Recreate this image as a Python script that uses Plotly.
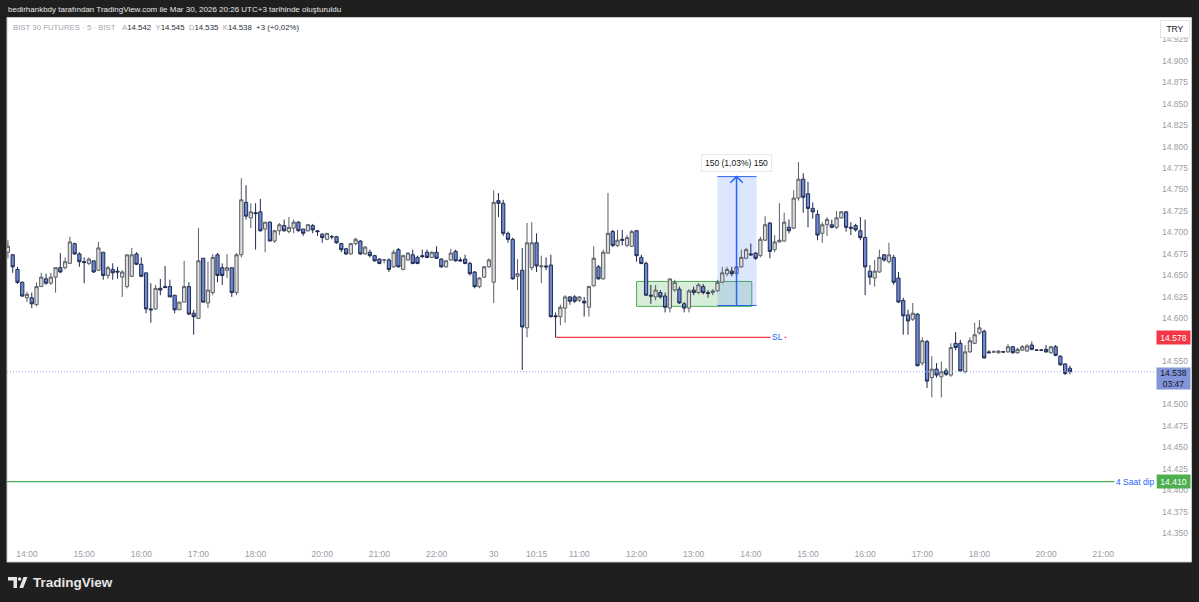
import plotly.graph_objects as go

# ---------------- data (5-min bars, BIST 30 futures) ----------------
open_ = [
    14.677,14.674,14.657,14.642,14.624,14.624,14.616,14.637,14.646,14.641,
    14.648,14.659,14.659,14.664,14.687,14.675,14.666,14.664,14.667,14.656,
    14.677,14.650,14.657,14.655,14.648,14.637,14.649,14.675,14.663,14.653,
    14.611,14.611,14.635,14.637,14.637,14.627,14.610,14.619,14.637,14.606,
    14.600,14.670,14.618,14.630,14.674,14.659,14.656,14.659,14.630,14.674,
    14.735,14.717,14.723,14.724,14.704,14.712,14.690,14.702,14.708,14.701,
    14.705,14.712,14.704,14.702,14.708,14.702,14.698,14.692,14.695,14.695,
    14.687,14.681,14.675,14.687,14.690,14.675,14.677,14.673,14.669,14.668,
    14.668,14.660,14.680,14.657,14.668,14.674,14.671,14.673,14.677,14.671,
    14.677,14.669,14.660,14.668,14.678,14.668,14.669,14.664,14.654,14.637,
    14.648,14.660,14.642,14.737,14.734,14.699,14.692,14.649,14.656,14.589,
    14.659,14.688,14.660,14.661,14.662,14.603,14.602,14.612,14.625,14.625,
    14.621,14.620,14.613,14.638,14.660,14.646,14.676,14.701,14.685,14.692,
    14.685,14.684,14.702,14.671,14.664,14.627,14.625,14.630,14.626,14.612,
    14.633,14.634,14.617,14.612,14.633,14.630,14.637,14.630,14.630,14.632,
    14.642,14.652,14.655,14.652,14.660,14.670,14.675,14.676,14.673,14.691,
    14.711,14.680,14.689,14.690,14.706,14.705,14.740,14.762,14.745,14.728,
    14.721,14.699,14.709,14.709,14.706,14.717,14.724,14.706,14.708,14.702,
    14.694,14.655,14.647,14.654,14.674,14.666,14.671,14.647,14.621,14.604,
    14.599,14.605,14.548,14.573,14.531,14.541,14.532,14.539,14.534,14.571,
    14.571,14.538,14.561,14.571,14.583,14.585,14.561,14.561,14.560,14.561,
    14.561,14.567,14.560,14.563,14.562,14.569,14.563,14.563,14.564,14.560,
    14.567,14.556,14.547,14.542,
]
high = [
    14.691,14.675,14.660,14.643,14.631,14.630,14.642,14.653,14.652,14.653,
    14.659,14.676,14.671,14.695,14.688,14.677,14.671,14.671,14.667,14.689,
    14.677,14.661,14.664,14.660,14.656,14.674,14.682,14.677,14.671,14.653,
    14.641,14.639,14.646,14.661,14.645,14.627,14.619,14.667,14.642,14.610,
    14.705,14.670,14.666,14.675,14.676,14.664,14.675,14.659,14.676,14.763,
    14.755,14.734,14.734,14.739,14.712,14.713,14.703,14.711,14.715,14.718,
    14.715,14.713,14.704,14.710,14.710,14.702,14.699,14.699,14.697,14.696,
    14.688,14.682,14.688,14.694,14.691,14.684,14.680,14.674,14.670,14.669,
    14.670,14.680,14.682,14.674,14.677,14.680,14.673,14.680,14.680,14.678,
    14.684,14.670,14.668,14.681,14.680,14.671,14.674,14.666,14.655,14.648,
    14.661,14.670,14.749,14.746,14.738,14.701,14.694,14.669,14.682,14.711,
    14.712,14.699,14.673,14.671,14.674,14.607,14.616,14.627,14.626,14.627,
    14.626,14.625,14.638,14.684,14.662,14.680,14.746,14.703,14.703,14.703,
    14.697,14.703,14.703,14.674,14.666,14.639,14.639,14.633,14.630,14.646,
    14.645,14.637,14.619,14.634,14.637,14.641,14.640,14.633,14.634,14.645,
    14.660,14.660,14.660,14.664,14.680,14.682,14.687,14.677,14.695,14.719,
    14.712,14.697,14.734,14.723,14.715,14.749,14.782,14.769,14.759,14.735,
    14.726,14.712,14.718,14.715,14.725,14.725,14.725,14.712,14.710,14.718,
    14.715,14.662,14.668,14.680,14.675,14.688,14.674,14.654,14.624,14.610,
    14.618,14.606,14.578,14.575,14.556,14.548,14.550,14.542,14.571,14.584,
    14.575,14.569,14.578,14.595,14.598,14.587,14.563,14.563,14.563,14.562,
    14.570,14.568,14.566,14.569,14.570,14.573,14.564,14.564,14.569,14.568,
    14.569,14.557,14.548,14.545,
]
low = [
    14.670,14.653,14.640,14.625,14.619,14.612,14.614,14.637,14.639,14.639,
    14.630,14.653,14.657,14.664,14.674,14.660,14.641,14.662,14.653,14.655,
    14.645,14.646,14.645,14.646,14.625,14.635,14.648,14.662,14.648,14.606,
    14.595,14.610,14.627,14.635,14.625,14.606,14.610,14.619,14.604,14.581,
    14.600,14.618,14.612,14.627,14.642,14.639,14.647,14.625,14.627,14.671,
    14.715,14.705,14.680,14.701,14.677,14.690,14.688,14.697,14.701,14.699,
    14.699,14.701,14.696,14.701,14.699,14.696,14.688,14.691,14.692,14.687,
    14.677,14.674,14.674,14.685,14.674,14.674,14.671,14.666,14.663,14.664,
    14.654,14.659,14.659,14.656,14.667,14.663,14.663,14.670,14.670,14.670,
    14.669,14.659,14.659,14.667,14.666,14.666,14.663,14.650,14.635,14.635,
    14.647,14.659,14.618,14.718,14.696,14.688,14.645,14.633,14.540,14.578,
    14.656,14.654,14.641,14.656,14.601,14.578,14.592,14.595,14.616,14.618,
    14.619,14.602,14.602,14.637,14.645,14.645,14.675,14.683,14.683,14.685,
    14.683,14.683,14.666,14.663,14.626,14.617,14.621,14.623,14.607,14.607,
    14.631,14.617,14.607,14.607,14.627,14.628,14.628,14.624,14.627,14.631,
    14.641,14.649,14.649,14.650,14.659,14.669,14.673,14.668,14.671,14.690,
    14.670,14.677,14.688,14.689,14.699,14.704,14.737,14.723,14.706,14.716,
    14.691,14.688,14.696,14.705,14.704,14.716,14.701,14.697,14.701,14.691,
    14.627,14.639,14.637,14.653,14.666,14.664,14.639,14.618,14.581,14.581,
    14.597,14.544,14.545,14.519,14.508,14.531,14.508,14.533,14.532,14.563,
    14.538,14.536,14.560,14.570,14.581,14.553,14.560,14.560,14.559,14.560,
    14.560,14.559,14.559,14.562,14.561,14.563,14.562,14.562,14.560,14.559,
    14.556,14.545,14.534,14.535,
]
close = [
    14.684,14.660,14.642,14.626,14.628,14.617,14.637,14.648,14.641,14.648,
    14.659,14.654,14.666,14.689,14.675,14.666,14.665,14.669,14.654,14.682,
    14.650,14.659,14.653,14.654,14.654,14.674,14.674,14.663,14.649,14.611,
    14.610,14.635,14.633,14.636,14.625,14.610,14.619,14.637,14.605,14.602,
    14.667,14.619,14.633,14.671,14.650,14.650,14.659,14.630,14.674,14.738,
    14.719,14.724,14.722,14.702,14.712,14.690,14.702,14.709,14.702,14.706,
    14.712,14.702,14.699,14.709,14.703,14.701,14.694,14.699,14.695,14.688,
    14.680,14.675,14.687,14.692,14.675,14.683,14.673,14.667,14.664,14.668,
    14.657,14.677,14.660,14.673,14.676,14.664,14.664,14.672,14.671,14.677,
    14.670,14.660,14.667,14.676,14.667,14.667,14.664,14.652,14.637,14.647,
    14.660,14.668,14.735,14.734,14.699,14.692,14.646,14.652,14.590,14.688,
    14.688,14.661,14.661,14.660,14.602,14.602,14.613,14.625,14.620,14.620,
    14.625,14.618,14.637,14.670,14.646,14.677,14.699,14.685,14.691,14.691,
    14.694,14.701,14.673,14.664,14.627,14.626,14.633,14.625,14.613,14.646,
    14.642,14.618,14.612,14.632,14.630,14.639,14.630,14.629,14.632,14.642,
    14.653,14.657,14.652,14.660,14.671,14.680,14.674,14.670,14.692,14.709,
    14.678,14.689,14.691,14.712,14.702,14.740,14.762,14.741,14.728,14.724,
    14.697,14.709,14.715,14.706,14.717,14.724,14.706,14.705,14.703,14.694,
    14.660,14.648,14.655,14.671,14.668,14.674,14.642,14.619,14.603,14.597,
    14.606,14.545,14.574,14.527,14.541,14.534,14.538,14.535,14.566,14.566,
    14.539,14.561,14.574,14.581,14.589,14.554,14.560,14.561,14.562,14.561,
    14.567,14.560,14.564,14.567,14.568,14.564,14.563,14.563,14.561,14.567,
    14.557,14.546,14.536,14.538,
]
first_bar = -4                      # bar index of the first candle (14:00 = 0)
bar_idx = list(range(first_bar, first_bar + len(open_)))

time_tick_idx = [0, 12, 24, 36, 48, 62, 74, 86, 98, 107, 116, 128, 140, 152,
                 164, 176, 188, 200, 214, 226]
time_tick_lab = ["14:00", "15:00", "16:00", "17:00", "18:00", "20:00", "21:00",
                 "22:00", "30", "10:15", "11:00", "12:00", "13:00", "14:00",
                 "15:00", "16:00", "17:00", "18:00", "20:00", "21:00"]
price_ticks = [14.350, 14.375, 14.400, 14.425, 14.450, 14.475, 14.500, 14.550,
               14.600, 14.625, 14.650, 14.675, 14.700, 14.725, 14.750, 14.775,
               14.800, 14.825, 14.850, 14.875, 14.900, 14.925]

sl_price = 14.578
dip_price = 14.410
last_price = 14.538
zone_low, zone_high = 14.614, 14.643
measure_low, measure_high = 14.615, 14.765

# ---------------- layout geometry ----------------
W, H = 1199, 602
ML, MR, MT, MB = 7, 43, 18, 59
PW = W - ML - MR
PH = H - MT - MB
XR = [-4.2, 237.08]
YR = [14.3386, 14.9496]

def px2paper_x(px):
    return (px - ML) / PW

def px2paper_y(py):
    return (H - MB - py) / PH

FONT = "Liberation Sans, Arial, sans-serif"
AXIS_GRAY = "#9a9da6"
BLUE = "#2962ff"

fig = go.Figure()
fig.add_trace(go.Candlestick(
    x=bar_idx, open=open_, high=high, low=low, close=close,
    increasing=dict(fillcolor="#dcdcdc", line=dict(color="#5a5f66", width=1)),
    decreasing=dict(fillcolor="#6f89d6", line=dict(color="#1f2a4d", width=1)),
    whiskerwidth=0, hoverinfo="skip", showlegend=False,
))

shapes = []
# white chart canvas (incl. scales)
shapes.append(dict(type="rect", xref="paper", yref="paper",
                   x0=px2paper_x(7), x1=px2paper_x(1191.5),
                   y0=px2paper_y(562), y1=px2paper_y(17.5),
                   fillcolor="white", line=dict(color="#c9c9c9", width=1),
                   layer="below"))
# green consolidation zone
shapes.append(dict(type="rect", xref="x", yref="y", x0=128.0, x1=152.2,
                   y0=zone_low, y1=zone_high,
                   fillcolor="rgba(76,175,80,0.22)",
                   line=dict(color="#4caf50", width=1), layer="below"))
# measurement box
shapes.append(dict(type="rect", xref="x", yref="y", x0=145.0, x1=153.2,
                   y0=measure_low, y1=measure_high,
                   fillcolor="rgba(41,98,255,0.16)", line=dict(width=0),
                   layer="below"))
for yy in (measure_low, measure_high):
    shapes.append(dict(type="line", xref="x", yref="y", x0=145.0, x1=153.2,
                       y0=yy, y1=yy, line=dict(color=BLUE, width=1)))
shapes.append(dict(type="line", xref="x", yref="y", x0=149.0, x1=149.0,
                   y0=measure_low, y1=measure_high,
                   line=dict(color=BLUE, width=1.5)))
shapes.append(dict(type="path", xref="x", yref="y",
                   path=f"M 147.7,{measure_high-0.0072:.4f} L 149.0,{measure_high:.4f} L 150.3,{measure_high-0.0072:.4f}",
                   line=dict(color=BLUE, width=1.5)))
# SL line
shapes.append(dict(type="line", xref="x", yref="y", x0=111.0, x1=159.4,
                   y0=sl_price, y1=sl_price, line=dict(color="#f23645", width=1.2)))
# 4h low line
shapes.append(dict(type="line", xref="paper", yref="y", x0=0, x1=1,
                   y0=dip_price, y1=dip_price, line=dict(color="#4caf50", width=1.2)))
# last price dotted line
shapes.append(dict(type="line", xref="paper", yref="y", x0=0, x1=1,
                   y0=last_price, y1=last_price,
                   line=dict(color="#8eaaf7", width=1, dash="1px,2px")))
# TradingView logo (footer)
shapes.append(dict(type="path", xref="paper", yref="paper",
                   path=(f"M {px2paper_x(8)},{px2paper_y(577)} L {px2paper_x(17)},{px2paper_y(577)} "
                         f"L {px2paper_x(17)},{px2paper_y(588)} L {px2paper_x(13.5)},{px2paper_y(588)} "
                         f"L {px2paper_x(13.5)},{px2paper_y(580.5)} L {px2paper_x(8)},{px2paper_y(580.5)} Z"),
                   fillcolor="#e6e6e6", line=dict(width=0)))
shapes.append(dict(type="circle", xref="paper", yref="paper",
                   x0=px2paper_x(17.8), x1=px2paper_x(21.4),
                   y0=px2paper_y(580.8), y1=px2paper_y(577.2),
                   fillcolor="#e6e6e6", line=dict(width=0)))
shapes.append(dict(type="path", xref="paper", yref="paper",
                   path=(f"M {px2paper_x(23.5)},{px2paper_y(577)} L {px2paper_x(27.5)},{px2paper_y(577)} "
                         f"L {px2paper_x(23.2)},{px2paper_y(588)} L {px2paper_x(19.4)},{px2paper_y(588)} Z"),
                   fillcolor="#e6e6e6", line=dict(width=0)))

ann = []
nb = "\u00a0"
ann.append(dict(xref="paper", yref="paper", x=px2paper_x(6), y=px2paper_y(9.5),
                xanchor="left", yanchor="middle", showarrow=False,
                text="bedirhankbdy tarafından TradingView.com ile Mar 30, 2026 20:26 UTC+3 tarihinde oluşturuldu",
                font=dict(family=FONT, size=8, color="#e6e6e6")))
g = "#a3a6af"
d = "#2a2e39"
legend_txt = (f"<span style='color:{g}'>BIST 30 FUTURES · 5 · BIST</span>{nb*3}"
              f"<span style='color:{g}'>A</span><span style='color:{d}'>14.542</span>{nb*2}"
              f"<span style='color:{g}'>Y</span><span style='color:{d}'>14.545</span>{nb*2}"
              f"<span style='color:{g}'>D</span><span style='color:{d}'>14.535</span>{nb*2}"
              f"<span style='color:{g}'>K</span><span style='color:{d}'>14.538</span>{nb*2}"
              f"<span style='color:{d}'>+3 (+0,02%)</span>")
ann.append(dict(xref="paper", yref="paper", x=px2paper_x(11), y=px2paper_y(27.5),
                xanchor="left", yanchor="middle", showarrow=False, text=legend_txt,
                font=dict(family=FONT, size=7.8, color=d)))
ann.append(dict(xref="paper", yref="paper", x=px2paper_x(31), y=px2paper_y(582.5),
                xanchor="left", yanchor="middle", showarrow=False, text="TradingView",
                font=dict(family=FONT, size=13.5, color="#e6e6e6", weight=600)))
ann.append(dict(xref="paper", yref="paper", x=px2paper_x(1174.5), y=px2paper_y(29),
                xanchor="center", yanchor="middle", showarrow=False, text="TRY",
                bgcolor="white", bordercolor="#e0e3eb", borderwidth=1, borderpad=3,
                width=22, font=dict(family=FONT, size=8.5, color="#131722")))
# price scale labels
ann.append(dict(xref="paper", yref="y", x=px2paper_x(1173.8), y=sl_price,
                xanchor="center", yanchor="middle", showarrow=False,
                text=f"{sl_price:.3f}", bgcolor="#f23645", width=31, height=11,
                font=dict(family=FONT, size=8.5, color="white")))
ann.append(dict(xref="paper", yref="y", x=px2paper_x(1173.8), y=dip_price,
                xanchor="center", yanchor="middle", showarrow=False,
                text=f"{dip_price:.3f}", bgcolor="#4caf50", width=31, height=11,
                font=dict(family=FONT, size=8.5, color="white")))
ann.append(dict(xref="paper", yref="y", x=px2paper_x(1173.8), y=last_price + 0.0056,
                xanchor="center", yanchor="top", showarrow=False,
                text=f"{last_price:.3f}<br>03:47", bgcolor="#8195d8", width=31, height=19,
                font=dict(family=FONT, size=8.5, color="#131722")))
# line labels
ann.append(dict(xref="paper", yref="y", x=px2paper_x(1135.5), y=dip_price,
                xanchor="center", yanchor="middle", showarrow=False,
                text="4 Saat dip", bgcolor="white", borderpad=1,
                font=dict(family=FONT, size=8.5, color=BLUE)))
ann.append(dict(xref="x", yref="y", x=157.5, y=sl_price,
                xanchor="center", yanchor="middle", showarrow=False,
                text="SL", bgcolor="white", borderpad=1,
                font=dict(family=FONT, size=8.5, color=BLUE)))
ann.append(dict(xref="x", yref="y", x=149.0, y=14.781,
                xanchor="center", yanchor="middle", showarrow=False,
                text="150 (1,03%) 150", bgcolor="white", bordercolor="#e6e8ee",
                borderwidth=1, borderpad=3,
                font=dict(family=FONT, size=8.5, color="#131722")))

fig.update_layout(
    width=W, height=H,
    margin=dict(l=ML, r=MR, t=MT, b=MB, pad=0),
    paper_bgcolor="#1f1f1f", plot_bgcolor="white",
    shapes=shapes, annotations=ann, showlegend=False,
    boxgap=0.32, boxgroupgap=0, hovermode=False,
    xaxis=dict(range=XR, showgrid=False, zeroline=False, showline=False,
               ticks="", tickvals=time_tick_idx, ticktext=time_tick_lab,
               tickfont=dict(family=FONT, size=8.5, color=AXIS_GRAY),
               ticklabelstandoff=4,
               rangeslider=dict(visible=False), fixedrange=True),
    yaxis=dict(range=YR, side="right", showgrid=False, zeroline=False,
               showline=False, ticks="", tickvals=price_ticks,
               ticktext=[f"{v:.3f}" for v in price_ticks],
               tickfont=dict(family=FONT, size=8.5, color=AXIS_GRAY),
               ticklabelstandoff=5, fixedrange=True),
)

fig.write_html("out.html", config={"displayModeBar": False},
               post_script="document.body.style.margin='0';document.body.style.overflow='hidden';")
